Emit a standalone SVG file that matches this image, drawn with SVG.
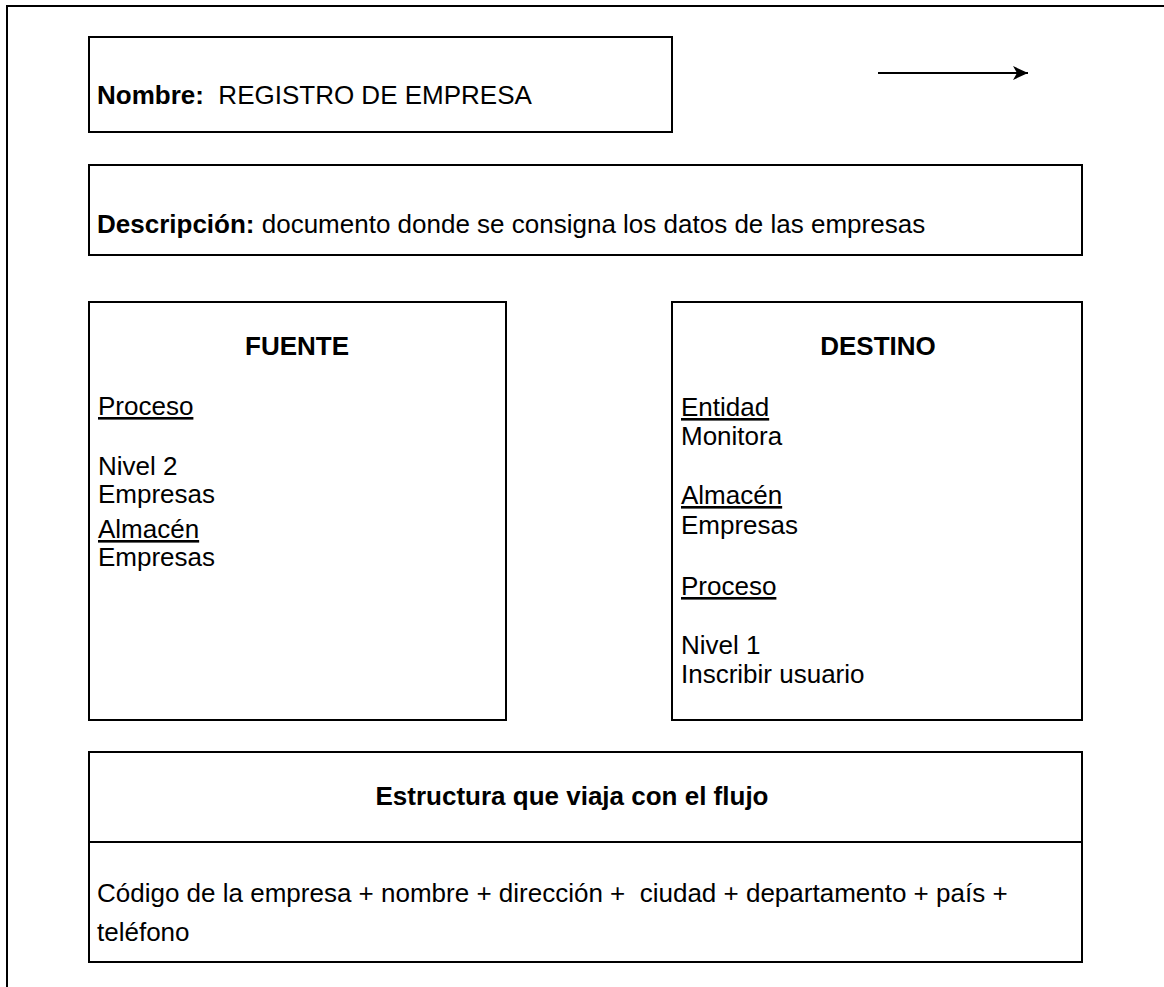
<svg xmlns="http://www.w3.org/2000/svg" width="1164" height="987" viewBox="0 0 1164 987">
<style>
.box{fill:#fff;stroke:#000;stroke-width:2}
.ln{fill:none;stroke:#000;stroke-width:2}
text{font-family:"Liberation Sans",Arial,sans-serif;font-size:26px;fill:#000;white-space:pre}
.b{font-weight:bold}
.u{text-decoration:underline}
.c{text-anchor:middle}
</style>
<defs>
<marker id="ah" viewBox="0 0 15 14" refX="15" refY="7" markerWidth="15" markerHeight="14" markerUnits="userSpaceOnUse" orient="auto">
<path d="M0,0 L15,7 L0,14 L4,7 Z" fill="#000"/>
</marker>
</defs>
<rect width="1164" height="987" fill="#fff"/>
<path class="ln" d="M7,987 V6 H1164"/>
<g id="connectors">
<line x1="878" y1="73" x2="1028" y2="73" stroke="#000" stroke-width="2" marker-end="url(#ah)"/>
</g>
<g id="nombre">
<rect class="box" x="89" y="37" width="583" height="95"/>
<text x="97" y="104" xml:space="preserve"><tspan class="b">Nombre:</tspan>  REGISTRO DE EMPRESA</text>
</g>
<g id="descripcion">
<rect class="box" x="89" y="165" width="993" height="90"/>
<text x="97" y="233"><tspan class="b">Descripción:</tspan> documento donde se consigna los datos de las empresas</text>
</g>
<g id="fuente">
<rect class="box" x="89" y="302" width="417" height="418"/>
<text class="b c" x="297" y="355">FUENTE</text>
<text class="u" x="98" y="415">Proceso</text>
<text x="98" y="475">Nivel 2</text>
<text x="98" y="503">Empresas</text>
<text class="u" x="98" y="538">Almacén</text>
<text x="98" y="566">Empresas</text>
</g>
<g id="destino">
<rect class="box" x="672" y="302" width="410" height="418"/>
<text class="b c" x="878" y="355">DESTINO</text>
<text class="u" x="681" y="416">Entidad</text>
<text x="681" y="445">Monitora</text>
<text class="u" x="681" y="504">Almacén</text>
<text x="681" y="534">Empresas</text>
<text class="u" x="681" y="595">Proceso</text>
<text x="681" y="654">Nivel 1</text>
<text x="681" y="683">Inscribir usuario</text>
</g>
<g id="estructura">
<rect class="box" x="89" y="752" width="993" height="210"/>
<line class="ln" x1="89" y1="842" x2="1082" y2="842"/>
<text class="b c" x="572" y="805">Estructura que viaja con el flujo</text>
<text x="97" y="902" xml:space="preserve">Código de la empresa + nombre + dirección +  ciudad + departamento + país +</text>
<text x="97" y="941">teléfono</text>
</g>
</svg>
